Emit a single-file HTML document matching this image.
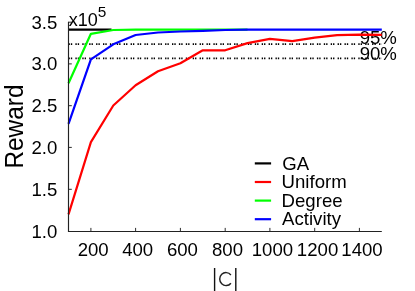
<!DOCTYPE html>
<html>
<head>
<meta charset="utf-8">
<title>Reward vs |C|</title>
<style>
html,body{margin:0;padding:0;background:#fff;}
body{width:415px;height:291px;overflow:hidden;}
svg{display:block;will-change:transform;}
text{font-family:"Liberation Sans",sans-serif;fill:#000;}
</style>
</head>
<body>
<svg width="415" height="291" viewBox="0 0 415 291">
<rect width="415" height="291" fill="#fff"/>
<g stroke="#000" stroke-width="1.6" stroke-dasharray="1.35 1.0 1.35 3.2" fill="none">
<path d="M68.5 44.1H381.5"/>
<path d="M68.5 58.4H381.5"/>
</g>
<text x="359.7" y="43.6" font-size="18.6">95%</text>
<text x="359.7" y="59.7" font-size="18.6">90%</text>
<g stroke="#222" stroke-width="0.95" fill="none">
<path d="M68.5 22.2h3.3M68.5 63.9h3.3M68.5 105.7h3.3M68.5 147.4h3.3M68.5 189.3h3.3"/>
<path d="M90.9 231.5v-3.6M135.6 231.5v-3.6M180.4 231.5v-3.6M225.2 231.5v-3.6M269.9 231.5v-3.6M314.7 231.5v-3.6M359.4 231.5v-3.6"/>
</g>
<g fill="none" stroke-width="2.2" stroke-linejoin="round">
<path stroke="#000" d="M68.5 29.7H111.5"/>
<path stroke="#f00" d="M68.5 214.3L90.9 142.1L113.3 105.5L135.6 85.3L158.0 71.3L180.4 63.2L202.8 50.3L225.2 50.3L247.5 43.1L269.9 38.8L292.3 41.1L314.7 37.6L337.1 35.1L359.4 34.6L381.8 34.8"/>
<path stroke="#0f0" d="M68.5 83.3L90.9 33.8L113.3 30.0L135.6 29.7L247.5 29.7"/>
<path stroke="#00f" d="M68.5 123.8L90.9 59.3L113.3 44.3L135.6 35.0L158.0 32.5L180.4 31.5L202.8 30.8L225.2 30.0L247.5 29.7L381.8 29.7"/>
</g>
<path d="M68.5 21.7V231.5H381.8" stroke="#222" stroke-width="1.15" fill="none"/>
<g font-size="18.6" text-anchor="end">
<text x="57.25" y="28.5">3.5</text>
<text x="57.25" y="70.2">3.0</text>
<text x="57.25" y="112.0">2.5</text>
<text x="57.25" y="153.7">2.0</text>
<text x="57.25" y="195.6">1.5</text>
<text x="57.25" y="237.5">1.0</text>
</g>
<g font-size="18.6" text-anchor="middle">
<text x="93.20" y="256.4">200</text>
<text x="137.70" y="256.4">400</text>
<text x="182.45" y="256.4">600</text>
<text x="227.55" y="256.4">800</text>
<text x="272.45" y="256.4">1000</text>
<text x="317.55" y="256.4">1200</text>
<text x="362.00" y="256.4">1400</text>
</g>
<text x="68.8" y="25.6" font-size="18">x10</text>
<text x="97.7" y="16.7" font-size="15.4">5</text>
<text transform="translate(22.7 126.55) rotate(-90) scale(1 1.04)" font-size="24.4" text-anchor="middle">Reward</text>
<g stroke="#111" fill="none">
<path d="M214.6 268V291M235.8 268V291" stroke-width="1.4"/>
<path d="M230.9 275.0A6.3 6.5 0 1 0 230.9 283.2" stroke-width="1.45" stroke="#222"/>
</g>
<g stroke-width="2.2" fill="none">
<path stroke="#000" d="M254.8 163.4H271.1"/>
<path stroke="#f00" d="M254.8 182.0H271.1"/>
<path stroke="#0f0" d="M254.8 200.6H271.1"/>
<path stroke="#00f" d="M254.8 219.2H271.1"/>
</g>
<g font-size="18.6">
<text x="282.2" y="169.5">GA</text>
<text x="281.6" y="188.1">Uniform</text>
<text x="281.6" y="206.7">Degree</text>
<text x="282.1" y="225.3">Activity</text>
</g>
</svg>
</body>
</html>
